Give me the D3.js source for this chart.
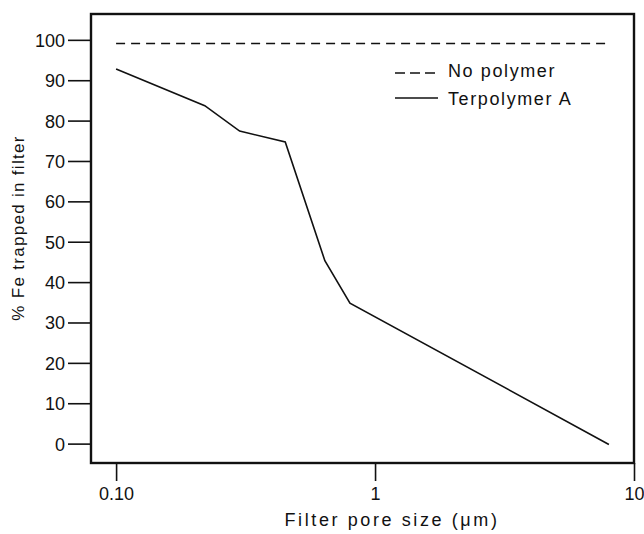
<!DOCTYPE html>
<html>
<head>
<meta charset="utf-8">
<script src="https://cdn.jsdelivr.net/npm/d3@7"></script>
<style>
  html, body { margin: 0; padding: 0; background: #fff; }
  svg text { font-family: "Liberation Sans", Arial, Helvetica, sans-serif; fill: #111; }
</style>
</head>
<body>
<svg id="chart" width="644" height="534"></svg>
<script>
// Filter pore size (µm) and % Fe retained
const poreSizes = [0.1, 0.22, 0.30, 0.45, 0.64, 0.80, 8.0];
const terpolymerA = [92.8, 83.7, 77.4, 74.7, 45.3, 34.8, -0.2];
const noPolymerSizes = [0.1, 8.0];
const noPolymer = [99.1, 99.1];

const yTicks = [0, 10, 20, 30, 40, 50, 60, 70, 80, 90, 100];
const xTicks = [0.1, 1, 10];
const xTickLabels = ["0.10", "1", "10"];

const svg = d3.select("#chart");
const plotLeft = 91, plotRight = 634, plotTop = 14, plotBottom = 463;

const x = d3.scaleLog().domain([0.08, 10]).range([plotLeft, plotRight]);
const y = d3.scaleLinear().domain([-4.8, 106.4]).range([plotBottom, plotTop]);

// Y axis
const yAxis = svg.append("g")
  .attr("transform", `translate(${plotLeft},0)`)
  .call(d3.axisLeft(y).tickValues(yTicks).tickSize(23).tickPadding(3).tickFormat(d3.format("d")));
yAxis.select(".domain").remove();
yAxis.selectAll(".tick line").attr("stroke", "#111").attr("stroke-width", 1.6);
yAxis.selectAll(".tick text").attr("font-size", 18).attr("dy", "0.36em");

// X axis
const xAxis = svg.append("g")
  .attr("transform", `translate(0,${plotBottom})`)
  .call(d3.axisBottom(x).tickValues(xTicks).tickSize(18).tickPadding(6)
    .tickFormat((d, i) => xTickLabels[i]));
xAxis.select(".domain").remove();
xAxis.selectAll(".tick line").attr("stroke", "#111").attr("stroke-width", 1.6);
xAxis.selectAll(".tick text").attr("font-size", 18);

// Plot frame
svg.append("rect")
  .attr("x", plotLeft).attr("y", plotTop)
  .attr("width", plotRight - plotLeft).attr("height", plotBottom - plotTop)
  .attr("fill", "none").attr("stroke", "#111").attr("stroke-width", 2.4);

const line = d3.line().x(d => x(d[0])).y(d => y(d[1]));

// No polymer (dashed)
svg.append("path")
  .datum(noPolymerSizes.map((s, i) => [s, noPolymer[i]]))
  .attr("d", line)
  .attr("fill", "none").attr("stroke", "#111").attr("stroke-width", 1.4)
  .attr("stroke-dasharray", "9,6");

// Terpolymer A (solid)
svg.append("path")
  .datum(poreSizes.map((s, i) => [s, terpolymerA[i]]))
  .attr("d", line)
  .attr("fill", "none").attr("stroke", "#111").attr("stroke-width", 1.6);

// Legend
const legend = svg.append("g");
const legendItems = [
  { label: "No polymer", dash: "10,5", ly: 73, ty: 77 },
  { label: "Terpolymer A", dash: null, ly: 98, ty: 105 }
];
legendItems.forEach(it => {
  legend.append("line")
    .attr("x1", 395).attr("x2", 438).attr("y1", it.ly).attr("y2", it.ly)
    .attr("stroke", "#111").attr("stroke-width", 1.4)
    .attr("stroke-dasharray", it.dash);
  legend.append("text")
    .attr("x", 448).attr("y", it.ty)
    .attr("font-size", 18).attr("letter-spacing", "1.6px")
    .text(it.label);
});

// Axis titles
svg.append("text")
  .attr("x", 392).attr("y", 526)
  .attr("text-anchor", "middle")
  .attr("font-size", 18).attr("letter-spacing", "2.6px")
  .text("Filter pore size (\u03bcm)");

svg.append("text")
  .attr("transform", "translate(24,228) rotate(-90)")
  .attr("text-anchor", "middle")
  .attr("font-size", 17).attr("letter-spacing", "1.3px")
  .text("% Fe trapped in filter");
</script>
</body>
</html>
